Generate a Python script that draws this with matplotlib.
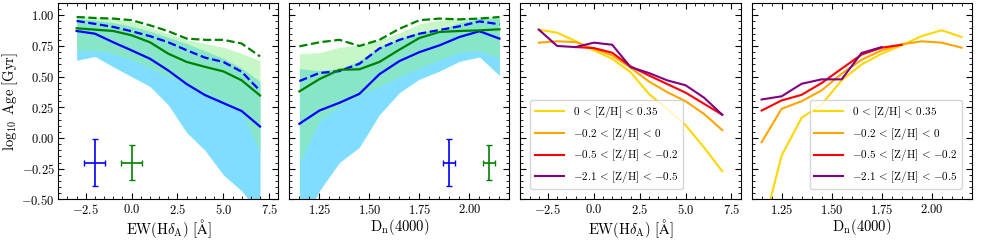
import numpy as np
import matplotlib
matplotlib.use("Agg")
import matplotlib.pyplot as plt
from matplotlib.ticker import MultipleLocator, FuncFormatter

plt.rcParams['mathtext.fontset'] = 'cm'
plt.rcParams['font.family'] = ['DejaVu Serif']

# bin centres
ew = [-3, -2, -1, 0, 1, 2, 3, 4, 5, 6, 7]
dn = [1.15, 1.25, 1.35, 1.45, 1.55, 1.65, 1.75, 1.85, 1.95, 2.05, 2.15]

# panel 1: age vs EW(Hdelta_A)
ew_blue_med = [0.872, 0.85, 0.78, 0.714, 0.646, 0.55, 0.44, 0.35, 0.285, 0.22, 0.094]
ew_blue_dash = [0.954, 0.93, 0.905, 0.87, 0.83, 0.78, 0.715, 0.655, 0.62, 0.54, 0.385]
ew_green_med = [0.894, 0.883, 0.872, 0.837, 0.78, 0.687, 0.62, 0.58, 0.543, 0.47, 0.347]
ew_green_dash = [0.986, 0.978, 0.973, 0.96, 0.918, 0.87, 0.81, 0.80, 0.80, 0.77, 0.665]
ew_blue_lo = [0.633, 0.665, 0.58, 0.50, 0.42, 0.27, 0.045, -0.10, -0.30, -0.43, -0.62]
ew_blue_hi = [0.97, 0.96, 0.94, 0.91, 0.87, 0.82, 0.77, 0.71, 0.65, 0.57, 0.46]
ew_green_lo = [0.714, 0.714, 0.69, 0.64, 0.57, 0.50, 0.43, 0.37, 0.30, 0.21, -0.11]
ew_green_hi = [1.0, 0.986, 0.973, 0.95, 0.90, 0.85, 0.80, 0.77, 0.74, 0.69, 0.63]

# panel 2: age vs Dn(4000)
dn_blue_med = [0.116, 0.224, 0.287, 0.36, 0.52, 0.627, 0.70, 0.755, 0.823, 0.87, 0.81]
dn_blue_dash = [0.464, 0.53, 0.545, 0.605, 0.73, 0.80, 0.85, 0.88, 0.91, 0.95, 0.927]
dn_green_med = [0.38, 0.48, 0.556, 0.56, 0.62, 0.72, 0.815, 0.864, 0.872, 0.877, 0.886]
dn_green_dash = [0.747, 0.78, 0.80, 0.75, 0.80, 0.89, 0.96, 0.973, 0.967, 0.973, 0.986]
dn_blue_lo = [-0.75, -0.43, -0.20, -0.075, 0.19, 0.37, 0.48, 0.545, 0.625, 0.66, 0.51]
dn_blue_hi = [0.565, 0.55, 0.565, 0.63, 0.74, 0.81, 0.864, 0.88, 0.94, 0.973, 0.973]
dn_green_lo = [-0.20, 0.14, 0.26, 0.35, 0.42, 0.50, 0.57, 0.64, 0.70, 0.71, 0.65]
dn_green_hi = [0.687, 0.695, 0.74, 0.755, 0.80, 0.856, 0.93, 0.96, 0.973, 0.986, 0.99]

# typical errors
err_ew_x = [-2.0, 0.0]
err_dn_x = [1.9, 2.1]
err_y = [-0.2, -0.2]
err_ew_xerr = [0.57, 0.59]
err_dn_xerr = [0.03, 0.03]
err_yerr = [0.19, 0.143]

# panels 3/4: metallicity bins
zh_labels = [r'$0\,<\,\mathrm{[Z/H]}\,<\,0.35$',
             r'${-0.2}\,<\,\mathrm{[Z/H]}\,<\,0$',
             r'${-0.5}\,<\,\mathrm{[Z/H]}\,<\,{-0.2}$',
             r'${-2.1}\,<\,\mathrm{[Z/H]}\,<\,{-0.5}$']
zh_colors = ['gold', 'orange', 'red', 'purple']

ew_zh = [
    (ew, [0.883, 0.858, 0.79, 0.714, 0.646, 0.537, 0.36, 0.238, 0.105, -0.075, -0.27]),
    (ew, [0.777, 0.788, 0.782, 0.728, 0.673, 0.573, 0.461, 0.374, 0.30, 0.197, 0.065]),
    (ew[2:], [0.741, 0.733, 0.695, 0.584, 0.51, 0.44, 0.37, 0.28, 0.19]),
    (ew, [0.883, 0.75, 0.741, 0.777, 0.76, 0.578, 0.53, 0.47, 0.43, 0.33, 0.19]),
]
dn_zh = [
    (dn, [-0.78, -0.143, 0.165, 0.273, 0.47, 0.60, 0.687, 0.755, 0.83, 0.878, 0.823]),
    (dn, [-0.034, 0.238, 0.30, 0.388, 0.524, 0.638, 0.714, 0.763, 0.788, 0.777, 0.736]),
    (dn[:8], [0.224, 0.306, 0.352, 0.448, 0.565, 0.68, 0.736, 0.76]),
    (dn[:7], [0.314, 0.34, 0.442, 0.478, 0.478, 0.693, 0.741]),
]

fig, axes = plt.subplots(1, 4, figsize=(9.81, 2.4), dpi=100)
fig.subplots_adjust(left=0.0594, right=0.9905, top=0.9875, bottom=0.169, wspace=0.05)

fmt1 = FuncFormatter(lambda v, p: r'$%.1f$' % v)
fmt2 = FuncFormatter(lambda v, p: r'$%.2f$' % v)

def band_panel(ax, x, blo, bhi, glo, ghi, bmed, bdash, gmed, gdash):
    ax.fill_between(x, blo, bhi, color='deepskyblue', alpha=0.5, lw=0)
    ax.fill_between(x, glo, ghi, color='lightgreen', alpha=0.5, lw=0)
    ax.plot(x, bmed, color='blue', lw=1.6)
    ax.plot(x, bdash, color='blue', lw=1.6, ls='--')
    ax.plot(x, gmed, color='green', lw=1.6)
    ax.plot(x, gdash, color='green', lw=1.6, ls='--')

band_panel(axes[0], ew, ew_blue_lo, ew_blue_hi, ew_green_lo, ew_green_hi,
           ew_blue_med, ew_blue_dash, ew_green_med, ew_green_dash)
band_panel(axes[1], dn, dn_blue_lo, dn_blue_hi, dn_green_lo, dn_green_hi,
           dn_blue_med, dn_blue_dash, dn_green_med, dn_green_dash)

for i, c in enumerate(['blue', 'green']):
    axes[0].errorbar(err_ew_x[i], err_y[i], xerr=err_ew_xerr[i], yerr=err_yerr[i],
                     color=c, lw=1.2, capsize=2.5, capthick=1.0)
    axes[1].errorbar(err_dn_x[i], err_y[i], xerr=err_dn_xerr[i], yerr=err_yerr[i],
                     color=c, lw=1.2, capsize=2.5, capthick=1.0)

for ax, data in [(axes[2], ew_zh), (axes[3], dn_zh)]:
    for (x, y), c, lab in zip(data, zh_colors, zh_labels):
        ax.plot(x, y, color=c, lw=1.5, label=lab)

axes[2].legend(loc='lower left', fontsize=8, handlelength=2.6, borderaxespad=0.9,
               fancybox=True, edgecolor='0.8')
axes[3].legend(loc='lower right', fontsize=8, handlelength=2.6, borderaxespad=0.9,
               fancybox=True, edgecolor='0.8')

ew_label = r'$\mathrm{EW(H}\delta_{\mathrm{A}}\mathrm{)\ [\AA]}$'
dn_label = r'$\mathrm{D_n(4000)}$'

for i, ax in enumerate(axes):
    ax.set_ylim(-0.5, 1.1)
    ax.yaxis.set_major_locator(MultipleLocator(0.25))
    ax.yaxis.set_minor_locator(MultipleLocator(0.05))
    if i in (0, 2):
        ax.set_xlim(-4, 8)
        ax.xaxis.set_major_locator(MultipleLocator(2.5))
        ax.xaxis.set_minor_locator(MultipleLocator(0.5))
        ax.xaxis.set_major_formatter(fmt1)
        ax.set_xlabel(ew_label, fontsize=10.5, labelpad=0)
    else:
        ax.set_xlim(1.1, 2.2)
        ax.xaxis.set_major_locator(MultipleLocator(0.25))
        ax.xaxis.set_minor_locator(MultipleLocator(0.05))
        ax.xaxis.set_major_formatter(fmt2)
        ax.set_xlabel(dn_label, fontsize=10.5, labelpad=0)
    ax.tick_params(which='both', direction='in', top=True, right=True, labelsize=9, pad=2.5)
    ax.tick_params(which='major', length=4, width=0.8)
    ax.tick_params(which='minor', length=2, width=0.6)
    if i == 0:
        ax.yaxis.set_major_formatter(fmt2)
        ax.set_ylabel(r'$\log_{10}\ \mathrm{Age\ [Gyr]}$', fontsize=10.5, labelpad=1)
    else:
        ax.set_yticklabels([])

fig.savefig('out.png', dpi=100)
